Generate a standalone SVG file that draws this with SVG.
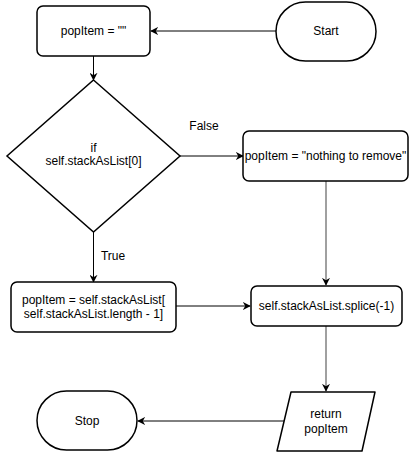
<svg xmlns="http://www.w3.org/2000/svg" width="410" height="452" viewBox="0 0 410 452">
<defs>
<marker id="ah" viewBox="0 0 10 10" refX="9" refY="5" markerWidth="8" markerHeight="8" markerUnits="userSpaceOnUse" orient="auto">
<path d="M0,0 L10,5 L0,10 L3,5 Z" fill="#000"/>
</marker>
<marker id="ahg" viewBox="0 0 10 10" refX="9" refY="5" markerWidth="8" markerHeight="8" markerUnits="userSpaceOnUse" orient="auto">
<path d="M0,0 L10,5 L0,10 L3,5 Z" fill="#000"/>
</marker>
</defs>
<style>
.n{fill:#fff;stroke:#000;stroke-width:1.5}
text{font-family:"Liberation Sans",Arial,sans-serif;font-size:12px;fill:#000;text-anchor:middle;dominant-baseline:central}
.c{fill:none;stroke:#000;stroke-width:1;marker-end:url(#ah)}
.g{fill:none;stroke:#808080;stroke-width:1.5;marker-end:url(#ahg)}
</style>
<rect width="410" height="452" fill="#fff"/>
<g id="connectors">
<path class="c" d="M276,31 L151,31"/>
<path class="c" d="M93.5,56 L93.5,80"/>
<path class="c" d="M180,156 L243,156"/>
<path class="c" d="M93.5,232 L93.5,282"/>
<path class="c" d="M176,306 L250,306"/>
<path class="g" d="M326,181 L326,285"/>
<path class="g" d="M326,326 L326,391"/>
<path class="c" d="M284,421 L138,421"/>
<text x="204" y="126">False</text>
<text x="113" y="256">True</text>
</g>
<g id="start">
<rect class="n" x="276" y="2" width="100" height="59" rx="29.5" ry="29.5"/>
<text x="326" y="31">Start</text>
</g>
<g id="init">
<rect class="n" x="37" y="6" width="113" height="50" rx="6" ry="6"/>
<text x="93.5" y="31">popItem = ""</text>
</g>
<g id="decision">
<path class="n" d="M93.5,80 L180,156 L93.5,232 L7,156 Z"/>
<text x="93.5" y="148">if</text>
<text x="93.5" y="161">self.stackAsList[0]</text>
</g>
<g id="nothing">
<rect class="n" x="243" y="131" width="165" height="50" rx="6" ry="6"/>
<text x="325.5" y="156">popItem = "nothing to remove"</text>
</g>
<g id="assign">
<rect class="n" x="11" y="282" width="165" height="50" rx="6" ry="6"/>
<text x="93.5" y="300">popItem = self.stackAsList[</text>
<text x="93.5" y="314">self.stackAsList.length - 1]</text>
</g>
<g id="splice">
<rect class="n" x="251" y="286" width="151" height="40" rx="6" ry="6"/>
<text x="326.5" y="306">self.stackAsList.splice(-1)</text>
</g>
<g id="return">
<path class="n" d="M291,392 L375,392 L362,451 L277,451 Z" stroke-linejoin="round"/>
<text x="326" y="414">return</text>
<text x="326" y="429">popItem</text>
</g>
<g id="stop">
<rect class="n" x="37" y="391" width="100" height="59" rx="29.5" ry="29.5"/>
<text x="87" y="421">Stop</text>
</g>
</svg>
